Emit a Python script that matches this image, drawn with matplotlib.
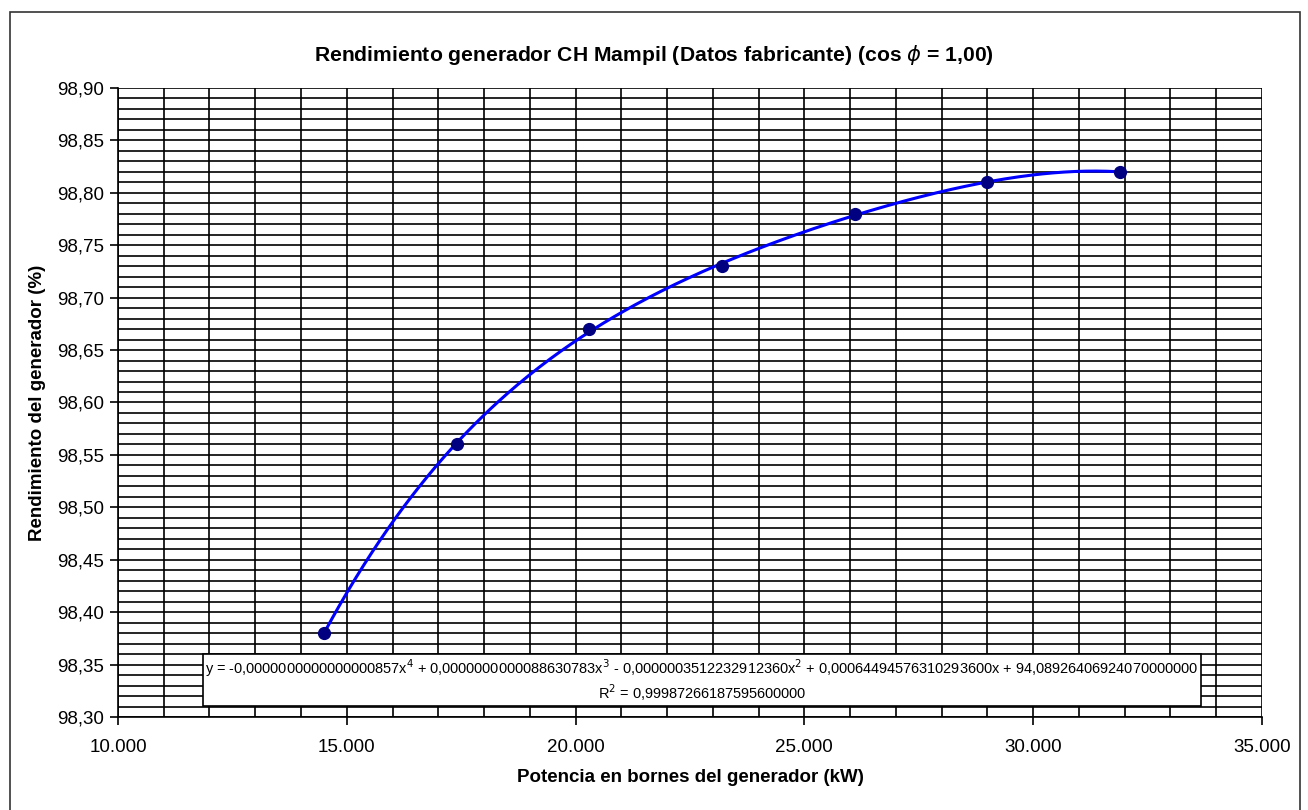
import numpy as np
import matplotlib.pyplot as plt
from matplotlib.patches import Rectangle
from matplotlib.ticker import MultipleLocator, FuncFormatter

plt.rcParams['font.family'] = ['Liberation Sans', 'DejaVu Sans']

# generator output power (kW) and efficiency (%)
potencia = [14500, 17400, 20300, 23200, 26100, 29000, 31900]
rendimiento = [98.38, 98.56, 98.67, 98.73, 98.78, 98.81, 98.82]

eq_text = ("y = -0,0000000000000000857x$^{4}$ + 0,0000000000088630783x$^{3}$ - 0,0000003512232912360x$^{2}$"
           " + 0,0006449457631029360 0x + 94,08926406924070000000").replace("0 0x", "00x")
r2_text = "R$^{2}$ = 0,99987266187595600000"

fig = plt.figure(figsize=(13.08, 8.10), dpi=100)
ax = fig.add_axes([0.0902, 0.1148, 0.8746, 0.7766])

# polynomial trend line (order 4) through the points
coef = np.polyfit(potencia, rendimiento, 4)
xs = np.linspace(min(potencia), max(potencia), 300)
ax.plot(xs, np.polyval(coef, xs), color='#0000FF', lw=2.2, zorder=3)
ax.plot(potencia, rendimiento, 'o', color='#000080', ms=8.5, zorder=4)

ax.set_xlim(10000, 35000)
ax.set_ylim(98.30, 98.90)
ax.xaxis.set_major_locator(MultipleLocator(5000))
ax.xaxis.set_minor_locator(MultipleLocator(1000))
ax.yaxis.set_major_locator(MultipleLocator(0.05))
ax.yaxis.set_minor_locator(MultipleLocator(0.01))
ax.xaxis.set_major_formatter(FuncFormatter(lambda v, p: f"{v:,.0f}".replace(",", ".")))
ax.yaxis.set_major_formatter(FuncFormatter(lambda v, p: f"{v:.2f}".replace(".", ",")))

ax.grid(which='both', color='black', lw=1.2)
ax.set_axisbelow(True)
for s in ['top', 'right']:
    ax.spines[s].set_visible(False)
for s in ['left', 'bottom']:
    ax.spines[s].set_linewidth(1.2)
ax.tick_params(which='major', direction='out', length=6, width=1.2, labelsize=13.5, pad=4)
ax.tick_params(axis='x', pad=10)
ax.tick_params(which='minor', length=0)

ax.set_xlabel('Potencia en bornes del generador (kW)', fontsize=13.5, fontweight='bold', labelpad=9)
ax.set_ylabel('Rendimiento del generador (%)', fontsize=13.5, fontweight='bold', labelpad=8)
fig.text(0.5, 0.932, 'Rendimiento generador CH Mampil (Datos fabricante) (cos $\\phi$ = 1,00)',
         ha='center', va='center', fontsize=15.2, fontweight='bold')

# trendline equation box
ax.text(0.5105, 0.058, eq_text + "\n" + r2_text, transform=ax.transAxes, ha='center', va='center',
        fontsize=10.45, linespacing=1.2,
        bbox=dict(boxstyle='square,pad=0.2', fc='white', ec='black', lw=1.2), zorder=2.5)

# outer chart border
fig.patches.append(Rectangle((10 / 1308, -0.01), 1290 / 1308, 1 - 12 / 810 + 0.01,
                             transform=fig.transFigure, fill=False, ec='#333333', lw=1.2))

fig.savefig('out.png', dpi=100)
